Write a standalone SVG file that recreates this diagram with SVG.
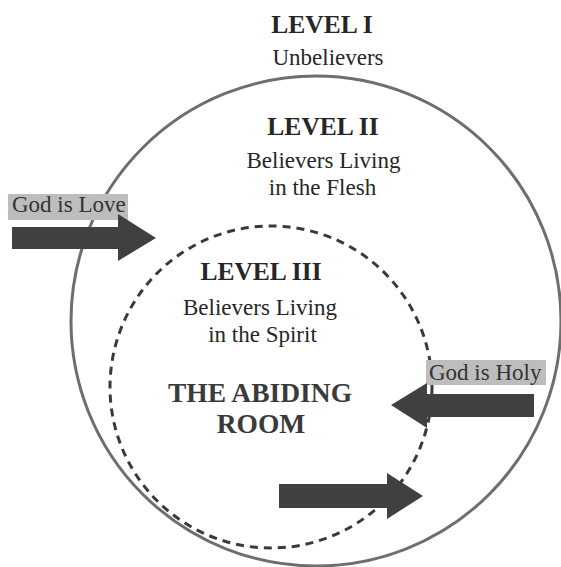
<svg xmlns="http://www.w3.org/2000/svg" width="561" height="567" viewBox="0 0 561 567">
<style>
.t{font-family:"Liberation Serif","Times New Roman",serif;fill:#262626;text-anchor:middle}
.h{font-weight:bold;font-size:25.5px}
.s{font-size:23px}
.a{font-weight:bold;font-size:27.5px;fill:#3a3a3a}
.lab{font-family:"Liberation Serif","Times New Roman",serif;font-size:23px;fill:#333}
.box{fill:#bdbdbd}
.arr{fill:#404040}
</style>
<rect width="561" height="567" fill="#fff"/>
<g id="level1">
<text class="t h" x="322" y="33">LEVEL I</text>
<text class="t s" x="328" y="65">Unbelievers</text>
</g>
<g id="level2">
<circle cx="316" cy="321" r="245" fill="none" stroke="#6e6e6e" stroke-width="3"/>
<text class="t h" x="323" y="135">LEVEL II</text>
<text class="t s" x="323.5" y="168">Believers Living</text>
<text class="t s" x="322.5" y="195">in the Flesh</text>
</g>
<g id="level3">
<circle cx="271" cy="387" r="161" fill="none" stroke="#3a3a3a" stroke-width="3" stroke-dasharray="8 6"/>
<text class="t h" x="261" y="280">LEVEL III</text>
<text class="t s" x="260" y="315">Believers Living</text>
<text class="t s" x="262.5" y="342">in the Spirit</text>
</g>
<g id="abiding-room">
<text class="t a" x="260" y="402">THE ABIDING</text>
<text class="t a" x="261" y="433">ROOM</text>
</g>
<g id="god-is-love">
<rect class="box" x="8" y="194" width="120" height="26"/>
<text class="lab" x="12" y="212">God is Love</text>
</g>
<g id="god-is-holy">
<rect class="box" x="426" y="360" width="120" height="25"/>
<text class="lab" x="429" y="380">God is Holy</text>
</g>
<g id="connectors">
<polygon class="arr" points="12,227 118,227 118,214 156,238 118,261 118,249 12,249"/>
<polygon class="arr" points="534,394 427,394 427,383 391,405 427,428 427,417 534,417"/>
<polygon class="arr" points="279,484 387,484 387,473 423,496 387,519 387,508 279,508"/>
</g>
</svg>
